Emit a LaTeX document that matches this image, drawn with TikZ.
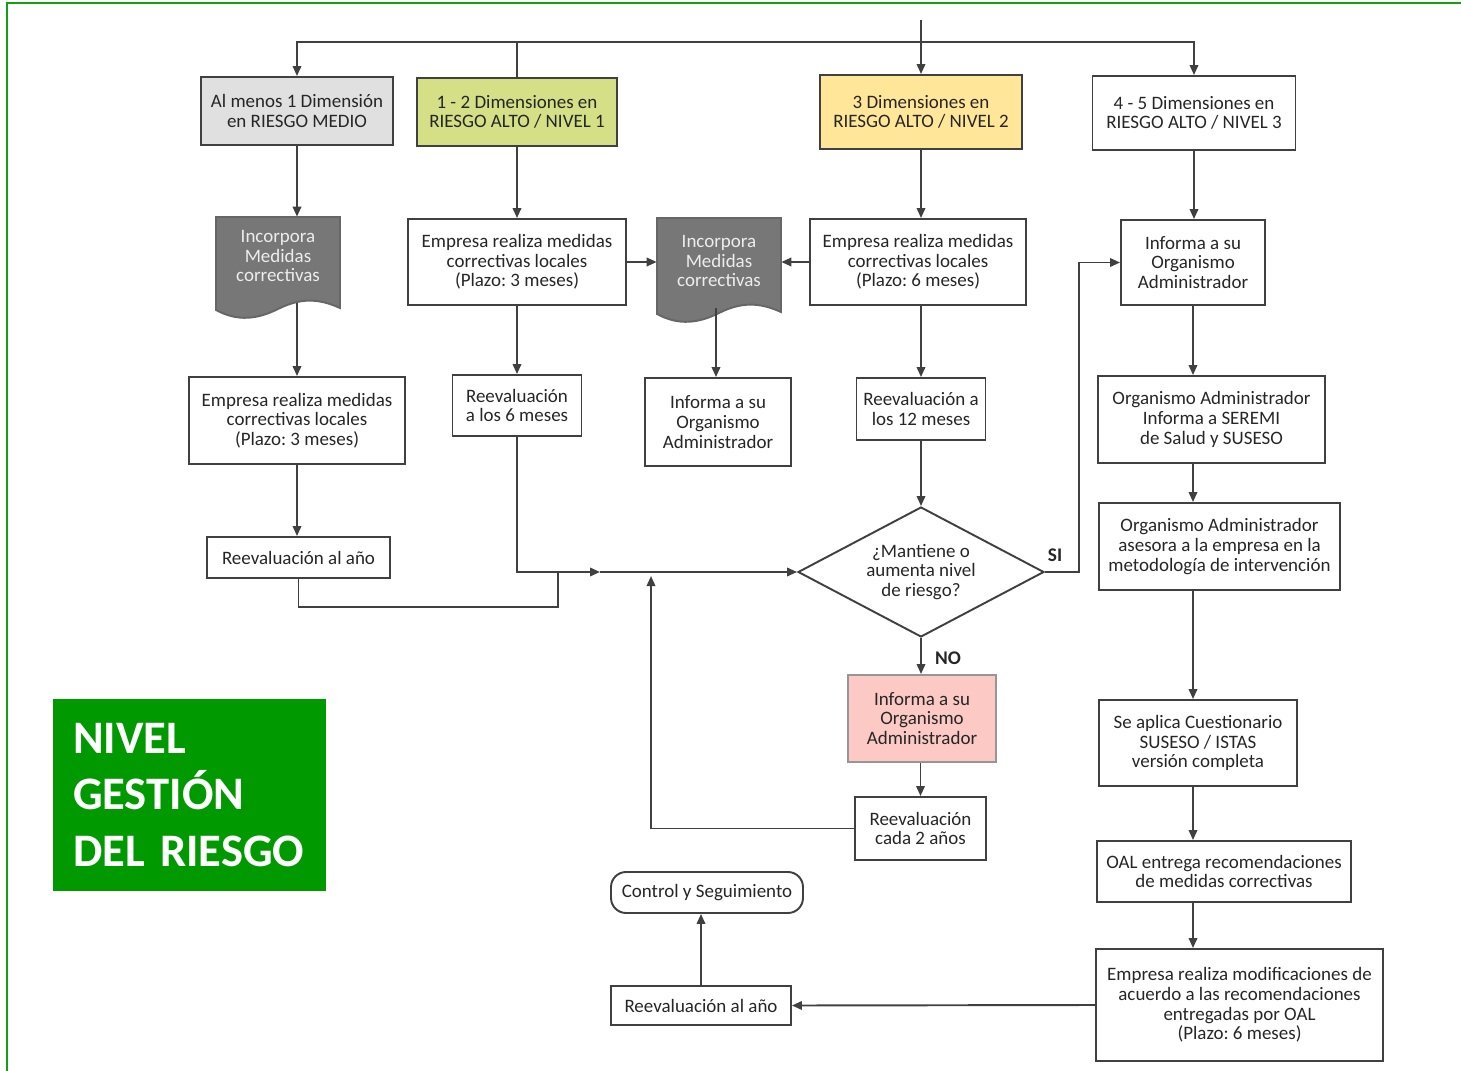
\documentclass[tikz,border=0pt]{standalone}
\usepackage{fontspec}
\setmainfont{Carlito}
\frenchspacing
\usepackage{tikz}
\usetikzlibrary{
  shapes.geometric,      % Decision diamond
  arrows.meta            % Triangle tips
}
\definecolor{linegray}{HTML}{404040}
\definecolor{txtgray}{HTML}{262626}
\definecolor{medgray}{HTML}{E0E0E0}
\definecolor{nivelone}{HTML}{D4DF86}
\definecolor{niveltwo}{HTML}{FFE699}
\definecolor{pinkfill}{HTML}{FCC9C5}
\definecolor{docfill}{HTML}{777777}
\definecolor{titlegreen}{HTML}{009A00}
\definecolor{framegreen}{HTML}{13A013}

\begin{document}
\begin{tikzpicture}[x=0.02cm, y=-0.02cm,
    box/.style={draw=linegray, line width=1.1pt, align=center, inner sep=2pt,
      text=txtgray, font=\fontsize{10.8}{11.2}\selectfont},
    doctext/.style={align=center, inner sep=0pt, text=white!93!black,
      font=\fontsize{10.8}{11.2}\selectfont},
    arr/.style={draw=linegray, line width=1.1pt, -{Triangle[length=2mm,width=1.7mm]}},
    lnk/.style={draw=linegray, line width=1.1pt},
    yesno/.style={font=\fontsize{11}{12}\selectfont\bfseries, text=txtgray},
  ]
            \useasboundingbox (0,0) rectangle (1461,1071);
            \draw[framegreen, line width=1.7pt] (7,3) rectangle (1490,1100);

            % top row
            \node[box, fill=medgray, minimum width=3.84cm, minimum height=1.36cm] (a) at (297,111) {Al menos 1 Dimensión\\en RIESGO MEDIO};
            \node[box, fill=nivelone, minimum width=4.0cm, minimum height=1.36cm] (b) at (517,112) {1 - 2 Dimensiones en\\RIESGO ALTO / NIVEL 1};
            \node[box, fill=niveltwo, minimum width=4.04cm, minimum height=1.48cm] (c) at (921,112) {3 Dimensiones en\\RIESGO ALTO / NIVEL 2};
            \node[box, minimum width=4.06cm, minimum height=1.48cm] (d) at (1194,113) {4 - 5 Dimensiones en\\RIESGO ALTO / NIVEL 3};

            \coordinate (entry) at (921,20);
            \coordinate (bus) at (921,42);
            \draw[arr] (entry) -- (c.north);
            \draw[arr] (bus) -| (a.north);
            \draw[lnk] (bus) -| (b.north);
            \draw[arr] (bus) -| (d.north);

            % documents
            \filldraw[fill=docfill, draw=linegray!80, line width=1.1pt] (216,217) -- (340,217) -- (340,308)
                .. controls (318,298) and (300,298) .. (278,309)
                .. controls (258,319) and (238,322) .. (216,310) -- cycle;
            \node[doctext, minimum width=2.48cm, minimum height=1.56cm] (doca) at (278,256) {Incorpora\\Medidas\\correctivas};
            \coordinate (docaout) at (297,303);

            \filldraw[fill=docfill, draw=linegray!80, line width=1.1pt] (657,218) -- (781,218) -- (781,312)
                .. controls (759,302) and (741,302) .. (719,313)
                .. controls (699,323) and (679,326) .. (657,314) -- cycle;
            \node[doctext, minimum width=2.48cm, minimum height=1.72cm] (docb) at (719,261) {Incorpora\\Medidas\\correctivas};
            \coordinate (docbout) at (716,308);

            % second row
            \node[box, minimum width=4.36cm, minimum height=1.72cm] (e1) at (517,262) {Empresa realiza medidas\\correctivas locales\\(Plazo: 3 meses)};
            \node[box, minimum width=4.32cm, minimum height=1.72cm] (e2) at (918,262) {Empresa realiza medidas\\correctivas locales\\(Plazo: 6 meses)};
            \node[box, minimum width=2.88cm, minimum height=1.70cm] (d2) at (1193,262.5) {Informa a su\\Organismo\\Administrador};

            \draw[arr] (a.south) -- (a.south |- doca.north);
            \draw[arr] (b.south) -- (e1.north);
            \draw[arr] (c.south) -- (c.south |- e2.north);
            \draw[arr] (d.south) -- (d.south |- d2.north);
            \draw[arr] (e1.east) -- (e1.east -| docb.west);
            \draw[arr] (e2.west) -- (e2.west -| docb.east);

            % third row
            \node[box, minimum width=4.32cm, minimum height=1.74cm] (f1) at (297,420.5) {Empresa realiza medidas\\correctivas locales\\(Plazo: 3 meses)};
            \node[box, minimum width=2.58cm, minimum height=1.22cm] (r6) at (517,405.5) {Reevaluación\\a los 6 meses};
            \node[box, minimum width=2.92cm, minimum height=1.76cm] (inf3) at (718,422) {Informa a su\\Organismo\\Administrador};
            \node[box, minimum width=2.58cm, minimum height=1.24cm] (r12) at (921,409) {Reevaluación a\\los 12 meses};
            \node[box, minimum width=4.54cm, minimum height=1.74cm] (seremi) at (1211.5,419.5) {Organismo Administrador\\Informa a SEREMI\\de Salud y SUSESO};

            \draw[arr] (docaout) -- (f1.north);
            \draw[arr] (e1.south) -- (r6.north);
            \draw[arr] (docbout) -- (docbout |- inf3.north);
            \draw[arr] (e2.south -| r12.north) -- (r12.north);
            \draw[arr] (d2.south) -- (d2.south |- seremi.north);

            % fourth row
            \node[box, minimum width=3.66cm, minimum height=0.82cm] (ra) at (298.5,557.5) {Reevaluación al año};
            \node[box, diamond, aspect=1.9, inner sep=0pt, minimum width=4.92cm, minimum height=2.6cm] (dia) at (921,572) {¿Mantiene o\\aumenta nivel\\de riesgo?};
            \node[box, minimum width=4.82cm, minimum height=1.74cm] (ases) at (1219.5,546.5) {Organismo Administrador\\asesora a la empresa en la\\metodología de intervención};

            \coordinate (join) at (600,572);
            \coordinate (merge) at (558,572);
            \draw[arr] (f1.south) -- (f1.south |- ra.north);
            \draw[arr] (r6.south) |- (join);
            \draw[arr] (join) -- (dia.west);
            \draw[lnk] (ra.south) -- ++(0,28) -| (merge);
            \draw[arr] (r12.south) -- (dia.north);
            \draw[arr] (dia.east) -- ++(34,0) |- (d2.west);
            \node[yesno] (si) at (1055,555) {SI};
            \draw[arr] (seremi.south -| d2.south) -- (d2.south |- ases.north);

            % lower part
            \node[box, fill=pinkfill, draw=linegray!55, minimum width=2.96cm, minimum height=1.74cm] (inf4) at (922,718.5) {Informa a su\\Organismo\\Administrador};
            \node[box, minimum width=2.62cm, minimum height=1.26cm] (cada) at (920.5,828.5) {Reevaluación\\cada 2 años};
            \node[box, minimum width=3.96cm, minimum height=1.72cm] (cuest) at (1198,743) {Se aplica Cuestionario\\SUSESO / ISTAS\\versión completa};
            \node[box, minimum width=5.08cm, minimum height=1.22cm] (oal) at (1224,871.5) {OAL entrega recomendaciones\\de medidas correctivas};
            \node[box, minimum width=5.74cm, minimum height=2.24cm] (modif) at (1239.5,1005) {Empresa realiza modificaciones de\\acuerdo a las recomendaciones\\entregadas por OAL\\(Plazo: 6 meses)};
            \node[box, minimum width=3.6cm, minimum height=0.78cm] (ra2) at (701,1005.5) {Reevaluación al año};
            \node[box, rounded corners=0.3cm, minimum width=3.84cm, minimum height=0.82cm] (ctrl) at (707,892.5) {Control y Seguimiento};

            \coordinate (upend) at (651,576);
            \draw[arr] (dia.south) -- (dia.south |- inf4.north);
            \node[yesno] (no) at (948,658) {NO};
            \draw[arr] (inf4.south -| cada.north) -- (cada.north);
            \draw[arr] (cada.west) -| (upend);
            \draw[arr] (ases.south -| d2.south) -- (d2.south |- cuest.north);
            \draw[arr] (cuest.south -| d2.south) -- (d2.south |- oal.north);
            \draw[arr] (oal.south -| d2.south) -- (d2.south |- modif.north);
            \draw[arr] (modif.west) -- (ra2.east);
            \draw[arr] (ra2.north) -- (ra2.north |- ctrl.south);

            % title
            \node[fill=titlegreen, text=white, align=left, text width=4.66cm, inner xsep=0.4cm,
                  minimum height=3.84cm, font=\fontsize{26.5}{32}\selectfont\bfseries] (lvl) at (189.5,795) {NIVEL\\GESTIÓN\\DEL RIESGO};
\end{tikzpicture}
\end{document}
